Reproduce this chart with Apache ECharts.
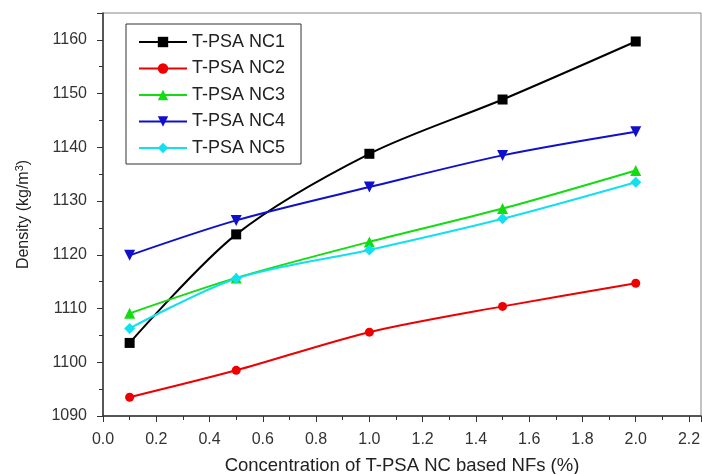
<!DOCTYPE html>
<html><head><meta charset="utf-8">
<script src="https://cdn.jsdelivr.net/npm/echarts@6/dist/echarts.min.js"></script>
<style>html,body{margin:0;padding:0;background:#fff}#c{width:702px;height:474px}</style>
</head><body><div id="c"></div>
<script>
const xValues = [0.1, 0.5, 1.0, 1.5, 2.0];
const seriesNames = ['T-PSA NC1','T-PSA NC2','T-PSA NC3','T-PSA NC4','T-PSA NC5'];
const nc1 = [1103.6, 1123.8, 1138.8, 1148.9, 1159.7];
const nc2 = [1093.5, 1098.5, 1105.6, 1110.4, 1114.7];
const nc3 = [1109.1, 1115.7, 1122.4, 1128.6, 1135.7];
const nc4 = [1119.9, 1126.4, 1132.6, 1138.5, 1142.9];
const nc5 = [1106.3, 1115.6, 1120.9, 1126.7, 1133.5];
const colors = ['#000000', '#ee0000', '#11dd11', '#1010cc', '#11e0ee'];
const symbols = ['rect', 'circle', 'triangle', 'triangle', 'diamond'];
const symbolSizes = [10, 9, 11, 11, 11];
const rotates = [0, 0, 0, 180, 0];
const allData = [nc1, nc2, nc3, nc4, nc5];

const chart = echarts.init(document.getElementById('c'));
const font = 'Arial, "Liberation Sans", sans-serif';
chart.setOption({
  animation: false,
  backgroundColor: '#fff',
  grid: {left: 103, top: 13, right: 1, bottom: 58, show: true, borderColor: '#888', borderWidth: 1,
    containLabel: false, outerBoundsMode: 'none'},
  legend: {
    left: 126, top: 24, orient: 'vertical',
    padding: [9, 16, 7, 12], itemGap: 8.5, itemWidth: 48, itemHeight: 13,
    borderColor: '#333', borderWidth: 1,
    textStyle: {fontFamily: font, fontSize: 18, color: '#222'},
    data: seriesNames
  },
  xAxis: {
    type: 'value', min: 0, max: 2.245, interval: 0.2,
    name: 'Concentration of T-PSA NC based NFs (%)', nameLocation: 'middle', nameGap: 40,
    nameTextStyle: {fontFamily: font, fontSize: 18.5, color: '#222'},
    axisLine: {lineStyle: {color: '#333', width: 1.5}},
    axisTick: {show: true, length: 6, lineStyle: {color: '#333'}},
    minorTick: {show: true, splitNumber: 2, length: 4, lineStyle: {color: '#333'}},
    splitLine: {show: false},
    axisLabel: {fontFamily: font, fontSize: 16, color: '#333', margin: 16, showMaxLabel: false,
      formatter: v => v.toFixed(1)}
  },
  yAxis: {
    type: 'value', min: 1090, max: 1165, interval: 10,
    name: '{a|Density (kg/m}{s|3}{a|)}', nameLocation: 'middle', nameGap: 70,
    nameTextStyle: {fontFamily: font, fontSize: 16, color: '#222',
      rich: {a: {fontFamily: font, fontSize: 16, color: '#222'},
             s: {fontFamily: font, fontSize: 11, color: '#222', verticalAlign: 'top', padding: [0, 0, 8, 0]}}},
    axisLine: {show: true, lineStyle: {color: '#333', width: 1.5}},
    axisTick: {show: true, length: 6, lineStyle: {color: '#333'}},
    minorTick: {show: true, splitNumber: 2, length: 4, lineStyle: {color: '#333'}},
    splitLine: {show: false},
    axisLabel: {fontFamily: font, fontSize: 16, color: '#333', margin: 16, showMaxLabel: false,
      formatter: v => String(v)}
  },
  series: seriesNames.map((n, i) => ({
    name: n, type: 'line', smooth: 0.3,
    data: xValues.map((x, j) => [x, allData[i][j]]),
    symbol: symbols[i], symbolSize: symbolSizes[i], symbolRotate: rotates[i],
    lineStyle: {color: colors[i], width: 2},
    itemStyle: {color: colors[i]}
  }))
});
</script></body></html>
